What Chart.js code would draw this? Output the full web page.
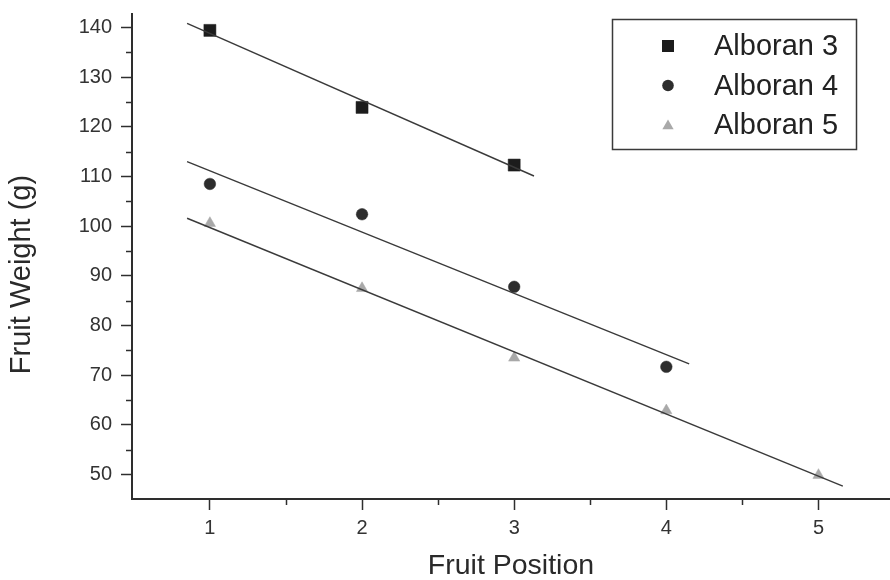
<!DOCTYPE html>
<html>
<head>
<meta charset="utf-8">
<script src="https://cdn.jsdelivr.net/npm/chart.js@4.4.1/dist/chart.umd.min.js"></script>
<style>
  html, body { margin: 0; padding: 0; background: #ffffff; }
  #c { display: block; }
</style>
</head>
<body>
<canvas id="c" width="890" height="580"></canvas>
<script>
// ---- data ----
const seriesNames = ['Alboran 3', 'Alboran 4', 'Alboran 5'];
const positionsA3 = [1, 2, 3];
const weightsA3 = [139.4, 123.9, 112.3];
const positionsA4 = [1, 2, 3, 4];
const weightsA4 = [108.5, 102.4, 87.8, 71.7];
const positionsA5 = [1, 2, 3, 4, 5];
const weightsA5 = [100.6, 87.5, 73.5, 62.9, 49.9];
// fitted regression lines (end points)
const fitA3 = [[0.85, 140.8], [3.13, 110.1]];
const fitA4 = [[0.85, 113.0], [4.15, 72.3]];
const fitA5 = [[0.85, 101.6], [5.16, 47.7]];
// axis ticks
const xTicks = [1, 2, 3, 4, 5];
const xMinorTicks = [1.5, 2.5, 3.5, 4.5];
const yTicks = [50, 60, 70, 80, 90, 100, 110, 120, 130, 140];
const yMinorTicks = [55, 65, 75, 85, 95, 105, 115, 125, 135];
const xTitle = 'Fruit Position';
const yTitle = 'Fruit Weight (g)';

const FONT = "'Liberation Sans', Arial, Helvetica, sans-serif";
const AXIS = '#2e2e2e';

function pts(xs, ys) { return xs.map((x, i) => ({ x: x, y: ys[i] })); }
function fitPts(f) { return f.map(p => ({ x: p[0], y: p[1] })); }

const markerStyles = [
  { style: 'rect', radius: 8.5, color: '#1c1c1c' },
  { style: 'circle', radius: 5.8, color: '#2d2d2d' },
  { style: 'triangle', radius: 6.5, color: '#a9a9a9' }
];

const lineDs = (f) => ({
  type: 'line', data: fitPts(f), showLine: true, borderColor: '#3a3a3a',
  borderWidth: 1.4, pointRadius: 0, fill: false, tension: 0
});
const scatterDs = (label, data, m) => ({
  type: 'scatter', label: label, data: data, pointStyle: m.style, pointRadius: m.radius,
  pointBackgroundColor: m.color, pointBorderColor: m.color, pointBorderWidth: 0.5, showLine: false
});

function drawMarker(ctx, style, x, y, r, color) {
  ctx.save();
  ctx.fillStyle = color;
  ctx.beginPath();
  if (style === 'rect') {
    const s = Math.SQRT1_2 * r;
    ctx.rect(x - s, y - s, 2 * s, 2 * s);
  } else if (style === 'circle') {
    ctx.arc(x, y, r, 0, Math.PI * 2);
  } else {
    for (let k = 0; k < 3; k++) {
      const a = k * 2 * Math.PI / 3;
      const px = x + Math.sin(a) * r, py = y - Math.cos(a) * r;
      if (k === 0) ctx.moveTo(px, py); else ctx.lineTo(px, py);
    }
    ctx.closePath();
  }
  ctx.fill();
  ctx.restore();
}

const extras = {
  id: 'extras',
  afterDraw(chart) {
    const ctx = chart.ctx;
    const xs = chart.scales.x, ys = chart.scales.y;
    const area = chart.chartArea;
    ctx.save();
    ctx.strokeStyle = AXIS;
    ctx.lineWidth = 1.5;
    // minor ticks
    xMinorTicks.forEach(v => {
      const px = Math.round(xs.getPixelForValue(v)) + 0.5;
      ctx.beginPath(); ctx.moveTo(px, area.bottom); ctx.lineTo(px, area.bottom + 6); ctx.stroke();
    });
    yMinorTicks.forEach(v => {
      const py = Math.round(ys.getPixelForValue(v)) + 0.5;
      ctx.beginPath(); ctx.moveTo(area.left, py); ctx.lineTo(area.left - 6, py); ctx.stroke();
    });
    // y axis title (sits a little below the axis centre in the reference)
    ctx.save();
    ctx.translate(22, (area.top + area.bottom) / 2 + 18);
    ctx.rotate(-Math.PI / 2);
    ctx.font = '29px ' + FONT;
    ctx.fillStyle = '#2a2a2a';
    ctx.textAlign = 'center';
    ctx.textBaseline = 'middle';
    ctx.fillText(yTitle, 0, 0);
    ctx.restore();
    // legend box
    const bx = area.right - 278, by = area.top + 5, bw = 244, bh = 130;
    ctx.lineWidth = 1.5;
    ctx.strokeStyle = '#3a3a3a';
    ctx.strokeRect(bx + 0.5, by + 0.5, bw, bh);
    ctx.font = '29px ' + FONT;
    ctx.fillStyle = '#222222';
    ctx.textBaseline = 'middle';
    ctx.textAlign = 'left';
    seriesNames.forEach((name, i) => {
      const yy = by + 27 + i * 39.5;
      const m = markerStyles[i];
      drawMarker(ctx, m.style, bx + 56, yy + (m.style === 'triangle' ? 1 : 0), m.radius, m.color);
      ctx.fillText(name, bx + 102, yy + 1);
    });
    ctx.restore();
  }
};

const zeroPad = (ax) => { ax.paddingTop = 0; ax.paddingBottom = 0; ax.paddingLeft = 0; ax.paddingRight = 0; };

new Chart(document.getElementById('c'), {
  type: 'scatter',
  data: {
    datasets: [
      lineDs(fitA3), lineDs(fitA4), lineDs(fitA5),
      scatterDs(seriesNames[0], pts(positionsA3, weightsA3), markerStyles[0]),
      scatterDs(seriesNames[1], pts(positionsA4, weightsA4), markerStyles[1]),
      scatterDs(seriesNames[2], pts(positionsA5, weightsA5), markerStyles[2])
    ]
  },
  options: {
    responsive: false,
    animation: false,
    devicePixelRatio: 1,
    layout: { autoPadding: false, padding: { top: 14, right: 0, left: 0, bottom: 0 } },
    plugins: { legend: { display: false }, tooltip: { enabled: false } },
    scales: {
      x: {
        type: 'linear', position: 'bottom', min: 0.488, max: 5.47,
        afterBuildTicks: (ax) => { ax.ticks = xTicks.map(v => ({ value: v })); },
        afterFit: (ax) => { ax.height = 81; zeroPad(ax); },
        grid: { display: true, drawOnChartArea: false, drawTicks: true, tickLength: 11, tickColor: AXIS, tickWidth: 1.5 },
        border: { display: true, color: AXIS, width: 2 },
        ticks: { color: '#333333', font: { family: FONT, size: 20 }, padding: 6, maxRotation: 0, autoSkip: false },
        title: { display: true, text: xTitle, color: '#2a2a2a', font: { family: FONT, size: 28.5, lineHeight: 1 }, padding: { top: 0, bottom: 0 } }
      },
      y: {
        type: 'linear', position: 'left', min: 45.1, max: 142.7,
        afterBuildTicks: (ax) => { ax.ticks = yTicks.map(v => ({ value: v })); },
        afterFit: (ax) => { ax.width = 132; zeroPad(ax); },
        grid: { display: true, drawOnChartArea: false, drawTicks: true, tickLength: 11, tickColor: AXIS, tickWidth: 1.5 },
        border: { display: true, color: AXIS, width: 2 },
        ticks: { color: '#333333', font: { family: FONT, size: 20 }, padding: 9, autoSkip: false },
        title: { display: false }
      }
    }
  },
  plugins: [extras]
});
</script>
</body>
</html>
